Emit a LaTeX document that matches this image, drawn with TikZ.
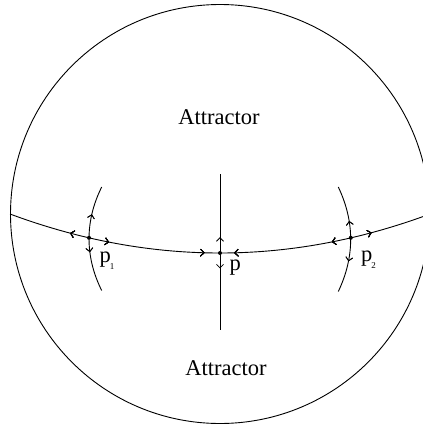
\documentclass[tikz,border=0pt]{standalone}
\usepackage{fontspec}
\setmainfont{Liberation Serif}
\usetikzlibrary{arrows.meta,decorations.markings}
\tikzset{
  curve/.style={line width=0.9pt,black},
  fw/.style={postaction={decorate},decoration={markings,mark=at position #1 with {\arrow{Straight Barb[length=3.5pt,width=7pt,line width=0.8pt]}}}},
  bw/.style={postaction={decorate},decoration={markings,mark=at position #1 with {\arrowreversed{Straight Barb[length=3.5pt,width=7pt,line width=0.8pt]}}}},
  dot/.style={circle,fill=black,inner sep=0pt,minimum size=4pt},
  big/.style={font=\fontsize{22.5}{27}\selectfont,inner sep=0pt},
}
\newcommand{\subsc}[1]{\kern-1pt\raisebox{-7pt}{\fontsize{9}{9}\selectfont #1}}
\begin{document}
\begin{tikzpicture}[x=1pt,y=-1pt]
\clip (0,0) rectangle (423,426);
% outer circle
\draw[curve] (220,214) circle (209.5);
% points
\node[dot] (p1) at (89,237.8) {};
\node[dot] (p) at (220,253) {};
\node[dot] (p2) at (350.8,237.8) {};
\coordinate (L) at (10,214);
\coordinate (R) at (430,214);
% main curve
\draw[curve,bw=0.147,fw=0.240,fw=0.464,bw=0.533,bw=0.762,fw=0.857]
  (L) .. controls (150,266) and (290,266) .. (R);
% arc through p1
\coordinate (a1t) at (101.7,187);
\coordinate (a1b) at (101.7,290.5);
\draw[curve,bw=0.27,fw=0.625] (a1t) .. controls (84.8,220.8) and (84.8,256.7) .. (a1b);
% arc through p2
\coordinate (a2t) at (338.3,187);
\coordinate (a2b) at (338.3,291.5);
\draw[curve,bw=0.33,fw=0.705] (a2t) .. controls (354.8,221.7) and (354.8,256.8) .. (a2b);
% vertical line through p
\coordinate (vt) at (220,174);
\coordinate (vb) at (220,330);
\draw[curve,fw=0.2] (p.center) -- (vt);
\draw[curve,fw=0.2] (p.center) -- (vb);
% labels
\node[big,anchor=base] (att1) at (219,124) {Attractor};
\node[big,anchor=base] (att2) at (226,375) {Attractor};
\node[big,anchor=base west] (lp1) at (99.5,262) {p\subsc{1}};
\node[big,anchor=base west] (lp) at (229.5,270) {p};
\node[big,anchor=base west] (lp2) at (361,261) {p\subsc{2}};
\end{tikzpicture}
\end{document}
